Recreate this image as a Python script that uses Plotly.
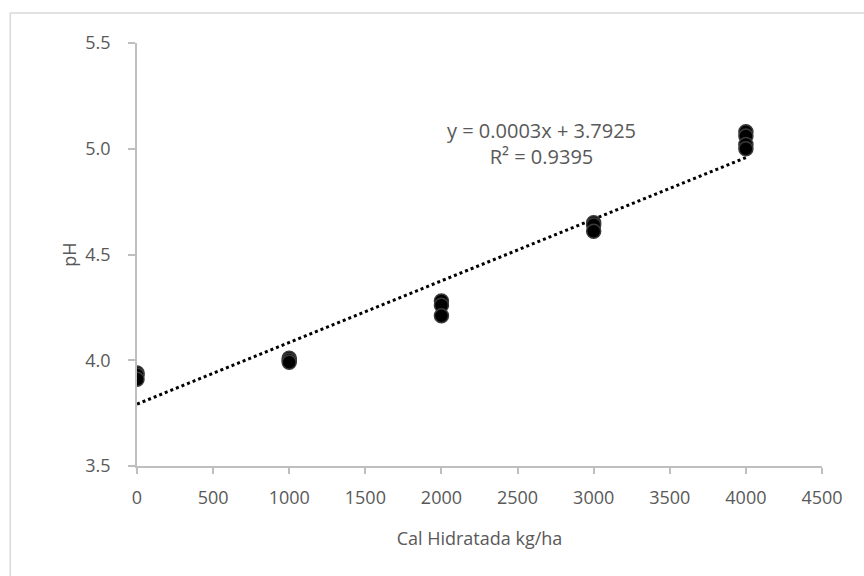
import numpy as np
import plotly.graph_objects as go

# Hydrated lime dose (kg/ha) and measured soil pH
dose = [0, 0, 0, 1000, 1000, 1000, 2000, 2000, 2000, 3000, 3000, 3000, 4000, 4000, 4000, 4000]
ph = [3.94, 3.93, 3.91, 4.01, 4.00, 3.99, 4.28, 4.26, 4.21, 4.65, 4.64, 4.61, 5.08, 5.06, 5.02, 5.00]

x_ticks = [0, 500, 1000, 1500, 2000, 2500, 3000, 3500, 4000, 4500]
y_ticks = [3.5, 4.0, 4.5, 5.0, 5.5]
y_tick_text = ["3.5", "4.0", "4.5", "5.0", "5.5"]

# Linear trendline coefficients as reported on the chart
slope = 0.0003
intercept = 3.7925
r_squared = 0.9395

# Least-squares line through the observations
fit_slope, fit_intercept = np.polyfit(dose, ph, 1)
trend_x = [0, 4000]
trend_y = [fit_intercept + fit_slope * v for v in trend_x]

font_family = "Open Sans, Lato, sans-serif"
grey_text = "#595959"
axis_grey = "#bfbfbf"

fig = go.Figure()

fig.add_trace(go.Scatter(
    x=trend_x, y=trend_y, mode="lines",
    line=dict(color="black", width=3, dash="dot"),
    hoverinfo="skip", showlegend=False,
))

fig.add_trace(go.Scatter(
    x=dose, y=ph, mode="markers",
    marker=dict(size=14, color="black", line=dict(color="#3a3a3a", width=1.5)),
    showlegend=False,
))

fig.add_annotation(
    x=0.59, y=0.83, xref="paper", yref="paper",
    text=f"y = {slope:.4f}x + {intercept:.4f}<br>R² = {r_squared:.4f}",
    showarrow=False, align="center",
    font=dict(family=font_family, size=20, color=grey_text),
)

# Light grey chart-area frame
fig.add_shape(
    type="rect", xref="paper", yref="paper",
    x0=-0.185, y0=-0.5, x1=1.3, y1=1.071,
    line=dict(color="#d9d9d9", width=1.5), layer="below",
)

fig.update_layout(
    width=864, height=576,
    margin=dict(l=137, r=42, t=43, b=110),
    paper_bgcolor="white", plot_bgcolor="white",
    font=dict(family=font_family, size=18, color=grey_text),
    xaxis=dict(
        range=[0, 4500], tickvals=x_ticks, ticktext=[str(v) for v in x_ticks],
        showgrid=False, zeroline=False,
        showline=True, linecolor=axis_grey, linewidth=1.5,
        ticks="outside", ticklen=6, tickcolor=axis_grey, tickwidth=1.5,
        tickfont=dict(size=18, color=grey_text),
        ticklabelstandoff=9,
        title=dict(text="Cal Hidratada kg/ha", font=dict(size=18, color=grey_text), standoff=24),
    ),
    yaxis=dict(
        range=[3.5, 5.5], tickvals=y_ticks, ticktext=y_tick_text,
        showgrid=False, zeroline=False,
        showline=True, linecolor=axis_grey, linewidth=1.5,
        ticks="outside", ticklen=7, tickcolor=axis_grey, tickwidth=1.5,
        tickfont=dict(size=18, color=grey_text),
        ticklabelstandoff=14,
        title=dict(text="pH", font=dict(size=18, color=grey_text), standoff=4),
    ),
)

fig.write_html("out.html")
